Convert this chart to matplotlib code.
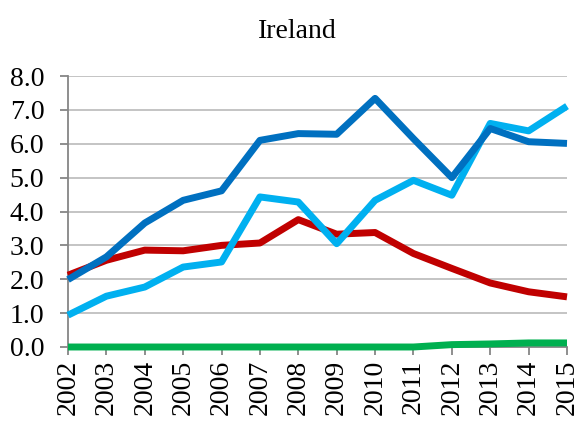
import matplotlib
matplotlib.use("Agg")
import matplotlib.pyplot as plt

years = list(range(2002, 2016))
dark_blue = [1.99, 2.66, 3.66, 4.33, 4.61, 6.10, 6.30, 6.28, 7.34, 6.15, 5.00, 6.45, 6.06, 6.01]
light_blue = [0.94, 1.50, 1.77, 2.36, 2.51, 4.43, 4.28, 3.05, 4.33, 4.92, 4.48, 6.60, 6.38, 7.11]
dark_red = [2.12, 2.56, 2.86, 2.84, 3.00, 3.07, 3.76, 3.33, 3.38, 2.76, 2.32, 1.89, 1.63, 1.48]
green = [0.0, 0.0, 0.0, 0.0, 0.0, 0.0, 0.0, 0.0, 0.0, 0.0, 0.07, 0.09, 0.12, 0.12]
y_ticks = [0, 1, 2, 3, 4, 5, 6, 7, 8]

plt.rcParams["font.family"] = ["Liberation Serif", "DejaVu Serif"]

fig = plt.figure(figsize=(5.82, 4.25), dpi=100)
ax = fig.add_axes([68 / 582, 1 - 347 / 425, (567 - 68) / 582, (347 - 76) / 425])

series = [
    (green, "#00B050"),
    (dark_red, "#C00000"),
    (light_blue, "#00B0F0"),
    (dark_blue, "#0070C0"),
]
for values, color in series:
    ax.plot(years, values, color=color, linewidth=5, solid_capstyle="butt",
            solid_joinstyle="round", clip_on=False, zorder=3)

ax.set_xlim(2002, 2015)
ax.set_ylim(0, 8)
ax.set_yticks(y_ticks)
ax.set_yticklabels([f"{v:.1f}" for v in y_ticks])
ax.set_xticks(years)
ax.set_xticklabels([str(y) for y in years], rotation=90)

ax.grid(axis="y", color="#BFBFBF", linewidth=1.3)
ax.set_axisbelow(True)
for side in ("top", "right"):
    ax.spines[side].set_visible(False)
for side in ("left", "bottom"):
    ax.spines[side].set_color("#868686")
    ax.spines[side].set_linewidth(1.3)

ax.tick_params(axis="both", colors="#868686", labelcolor="black", labelsize=20,
               length=6, width=1.3, direction="out")
ax.tick_params(axis="y", pad=11)
ax.tick_params(axis="x", pad=3)

fig.suptitle("Ireland", fontsize=20, x=297 / 582, y=1 - 19 / 425, va="top")

fig.savefig("out.png", dpi=100)
